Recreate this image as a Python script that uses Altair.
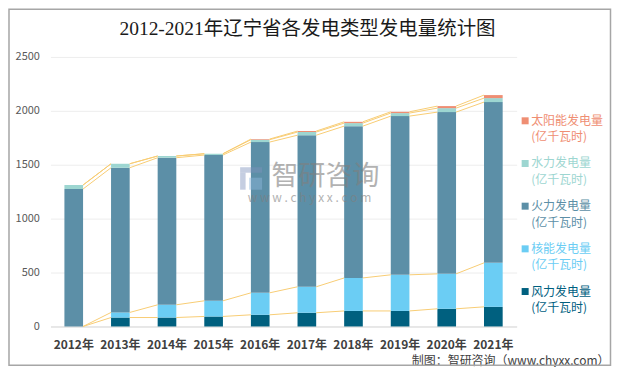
import altair as alt
import pandas as pd

years = ["2012年", "2013年", "2014年", "2015年", "2016年",
         "2017年", "2018年", "2019年", "2020年", "2021年"]

# 单位：亿千瓦时 (stack order bottom -> top)
wind = [0, 83, 83, 93, 108, 127, 144, 144, 164, 182]
nuclear = [0, 47, 118, 145, 204, 241, 306, 335, 324, 408]
thermal = [1275, 1342, 1364, 1352, 1398, 1406, 1408, 1472, 1500, 1491]
hydro = [37, 37, 16, 12, 22, 29, 28, 28, 37, 37]
solar = [0, 0, 0, 0, 6, 9, 12, 12, 19, 28]

stack_names = ["风力发电量", "核能发电量", "火力发电量", "水力发电量", "太阳能发电量"]
stack_values = [wind, nuclear, thermal, hydro, solar]
stack_colors = ["#00607F", "#6BCDF4", "#5C8FA7", "#9DD6D1", "#EF8E73"]

legend_order = stack_names[::-1]
legend_colors = stack_colors[::-1]
unit_label = "(亿千瓦时)"

title_text = "2012-2021年辽宁省各发电类型发电量统计图"
source_text = "制图：智研咨询（www.chyxx.com）"
wm_main = "智研咨询"
wm_sub = "w w w . c h y x x . c o m"

# ---- tables built from the arrays ----
bar_rows = []
for k, (name, vals) in enumerate(zip(stack_names, stack_values)):
    for y, v in zip(years, vals):
        bar_rows.append({"year": y, "series": name, "value": v, "order": k})
df_bars = pd.DataFrame(bar_rows)

cum = []
running = [0] * len(years)
for vals in stack_values:
    running = [a + b for a, b in zip(running, vals)]
    cum.append(list(running))
line_rows = []
for k in range(len(stack_names)):
    for i in range(len(years) - 1):
        line_rows.append({"year": years[i], "year2": years[i + 1],
                          "v": cum[k][i], "v2": cum[k][i + 1]})
df_lines = pd.DataFrame(line_rows)

df_leg = pd.DataFrame({"series": legend_order,
                       "unit": [unit_label] * len(legend_order),
                       "idx": list(range(len(legend_order)))})

cjk = "Noto Sans CJK SC"
x_scale = alt.Scale(domain=years, paddingInner=0, paddingOuter=0)
y_scale = alt.Scale(domain=[0, 2500], nice=False)
color_scale = alt.Scale(domain=legend_order, range=legend_colors)

bars = alt.Chart(df_bars).mark_bar(width=alt.RelativeBandSize(0.4)).encode(
    x=alt.X("year:N", scale=x_scale, sort=years, title=None,
            axis=alt.Axis(labelAngle=0, ticks=False, domainColor="#D9D9D9",
                          labelFont=cjk, labelFontSize=12, labelFontWeight="bold",
                          labelColor="#404040", labelPadding=13, grid=False)),
    y=alt.Y("value:Q", stack="zero", scale=y_scale, title=None,
            axis=alt.Axis(values=[0, 500, 1000, 1500, 2000, 2500], format="d",
                          ticks=False, domain=False, labelFont=cjk, labelFontSize=11,
                          labelColor="#595959", labelPadding=11,
                          gridColor="#EDEDED", gridWidth=1)),
    color=alt.Color("series:N", scale=color_scale, legend=None),
    order=alt.Order("order:Q", sort="ascending"),
)

lines = alt.Chart(df_lines).mark_rule(color="#F8CD74", strokeWidth=1).encode(
    x=alt.X("year:N", scale=x_scale, sort=years, bandPosition=0.7, title=None),
    x2=alt.X2("year2", bandPosition=0.3),
    y=alt.Y("v:Q", scale=y_scale, title=None),
    y2="v2",
)

leg_base = alt.Chart(df_leg).transform_calculate(py="64 + 42.75 * datum.idx")
leg_sq = leg_base.mark_square(size=49, opacity=1).encode(
    x=alt.value(475.5),
    y=alt.Y("py:Q", scale=None),
    color=alt.Color("series:N", scale=color_scale, legend=None),
)
leg_t1 = leg_base.mark_text(align="left", baseline="middle", font=cjk, fontSize=12).encode(
    x=alt.value(481.5),
    y=alt.Y("py:Q", scale=None),
    text="series:N",
    color=alt.Color("series:N", scale=color_scale, legend=None),
)
leg_t2 = leg_base.mark_text(align="left", baseline="middle", font=cjk, fontSize=12, dy=16.5).encode(
    x=alt.value(481.5),
    y=alt.Y("py:Q", scale=None),
    text="unit:N",
    color=alt.Color("series:N", scale=color_scale, legend=None),
)

one = alt.Data(values=[{}])
title = alt.Chart(one).mark_text(font="Liberation Serif, Noto Sans CJK SC", fontSize=19.5,
                                 color="#1A1A1A", baseline="middle", align="center",
                                 text=title_text).encode(x=alt.value(257.5), y=alt.value(-27.7))
# watermark logo (decorative)
icon_a = alt.Chart(one).mark_rect(color="#7F93BC", opacity=0.45).encode(
    x=alt.value(190), x2=alt.value(212), y=alt.value(110.5), y2=alt.value(116))
icon_b = alt.Chart(one).mark_rect(color="#7F93BC", opacity=0.45).encode(
    x=alt.value(190), x2=alt.value(195.5), y=alt.value(116), y2=alt.value(133))
icon_c = alt.Chart(one).mark_rect(color="#8FB7DD", opacity=0.45).encode(
    x=alt.value(199), x2=alt.value(212), y=alt.value(121), y2=alt.value(133))
wm1 = alt.Chart(one).mark_text(font=cjk, fontSize=27, color="#7F7F7F", opacity=0.6,
                               text=wm_main).encode(x=alt.value(275.5), y=alt.value(120.3))
wm2 = alt.Chart(one).mark_text(font=cjk, fontSize=12, color="#7F7F7F", opacity=0.6,
                               text=wm_sub).encode(x=alt.value(259.5), y=alt.value(141.3))
src = alt.Chart(one).mark_text(font=cjk, fontSize=12, color="#404040", align="right",
                               text=source_text).encode(x=alt.value(560), y=alt.value(304.5))
frame = alt.Chart(one).mark_rect(fill="white", fillOpacity=0, stroke="#A6A6A6",
                                 strokeWidth=1.5).encode(
    x=alt.value(-41.5), x2=alt.value(561), y=alt.value(-47.7), y2=alt.value(308.8))

chart = alt.layer(bars, lines, icon_a, icon_b, icon_c, wm1, wm2, leg_sq, leg_t1, leg_t2,
                  title, src, frame).properties(
    width=467, height=270,
    autosize=alt.AutoSizeParams(type="none"),
    padding={"left": 42.5, "top": 48.7, "right": 95.5, "bottom": 40.3},
).configure_view(stroke=None)

chart.save("out.html", embed_options={"renderer": "svg", "actions": False})
